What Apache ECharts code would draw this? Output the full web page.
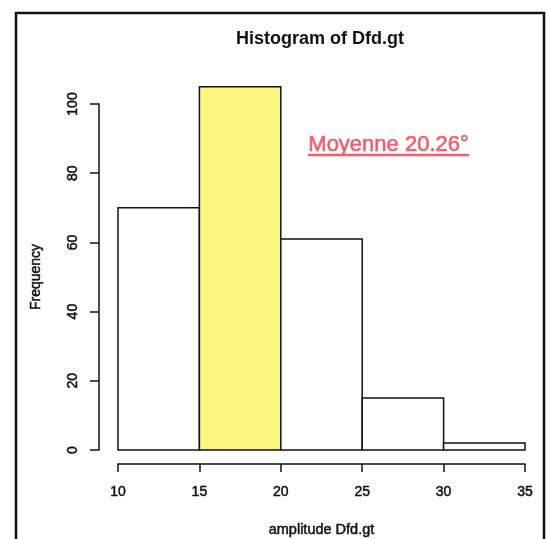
<!DOCTYPE html>
<html>
<head>
<meta charset="utf-8">
<script src="https://cdn.jsdelivr.net/npm/echarts@6/dist/echarts.min.js"></script>
<style>
html,body{margin:0;padding:0;background:#fff;}
#chart{width:549px;height:539px;}
</style>
</head>
<body>
<div id="chart"></div>
<script>
// Histogram data
const binStarts = [10, 15, 20, 25, 30];
const binEnds = [15, 20, 25, 30, 35];
const counts = [70, 105, 61, 15, 2];
const highlightBin = 1;
const xTicks = [10, 15, 20, 25, 30, 35];
const yTicks = [0, 20, 40, 60, 80, 100];
const titleText = 'Histogram of Dfd.gt';
const xName = 'amplitude Dfd.gt';
const yName = 'Frequency';
const noteText = 'Moyenne 20.26°';

const FONT = '"Liberation Sans", Arial, Helvetica, sans-serif';
const chart = echarts.init(document.getElementById('chart'), null, {renderer: 'canvas'});

const data = binStarts.map((s, i) => [s, binEnds[i], counts[i]]);
const inkText = {fontFamily: FONT, fontSize: 14, color: '#111', textBorderColor: '#111', textBorderWidth: 0.5};

chart.setOption({
  animation: false,
  backgroundColor: '#ffffff',
  title: {
    text: titleText,
    left: 315, top: 25, textAlign: 'center',
    textStyle: {fontFamily: FONT, fontSize: 18, fontWeight: 'bold', color: '#111'}
  },
  grid: {left: 118, right: 24, top: 104, bottom: 89, containLabel: false, outerBoundsMode: 'none'},
  xAxis: {
    type: 'value',
    min: xTicks[0], max: xTicks[xTicks.length - 1], interval: 5,
    offset: 14,
    name: xName, nameLocation: 'middle', nameGap: 58,
    nameTextStyle: Object.assign({}, inkText, {fontSize: 14.5}),
    axisLine: {show: true, onZero: false, lineStyle: {color: '#111', width: 1.5}},
    axisTick: {show: true, inside: false, length: 8, lineStyle: {color: '#111', width: 1.5}},
    axisLabel: Object.assign({margin: 21}, inkText),
    splitLine: {show: false}
  },
  yAxis: {
    type: 'value',
    min: yTicks[0], max: yTicks[yTicks.length - 1], interval: 20,
    offset: 19,
    name: yName, nameLocation: 'middle', nameGap: 56, nameRotate: 90,
    nameTextStyle: inkText,
    axisLine: {show: true, onZero: false, lineStyle: {color: '#111', width: 1.5}},
    axisTick: {show: true, inside: false, length: 9, lineStyle: {color: '#111', width: 1.5}},
    axisLabel: Object.assign({rotate: 90, margin: 19}, inkText),
    splitLine: {show: false}
  },
  series: [{
    type: 'custom',
    clip: false,
    data: data,
    encode: {x: [0, 1], y: 2},
    renderItem: function (params, api) {
      const p0 = api.coord([api.value(0), api.value(2)]);
      const p1 = api.coord([api.value(1), 0]);
      return {
        type: 'rect',
        shape: {x: p0[0], y: p0[1], width: p1[0] - p0[0], height: p1[1] - p0[1]},
        style: {
          fill: params.dataIndex === highlightBin ? '#fbf67e' : '#ffffff',
          stroke: '#111',
          lineWidth: 1.5
        }
      };
    }
  }],
  graphic: [
    {
      type: 'rect',
      shape: {x: 16, y: 13, width: 528, height: 560},
      style: {fill: 'none', stroke: '#111', lineWidth: 2.5},
      silent: true
    },
    {
      type: 'text',
      left: 308, top: 134,
      style: {text: noteText, fontFamily: FONT, fontSize: 22, fill: '#f0606e', stroke: '#f0606e', lineWidth: 0.6}
    },
    {
      type: 'line',
      shape: {x1: 308, y1: 155, x2: 469, y2: 155},
      style: {stroke: '#f0606e', lineWidth: 2.5}
    }
  ]
});
</script>
</body>
</html>
